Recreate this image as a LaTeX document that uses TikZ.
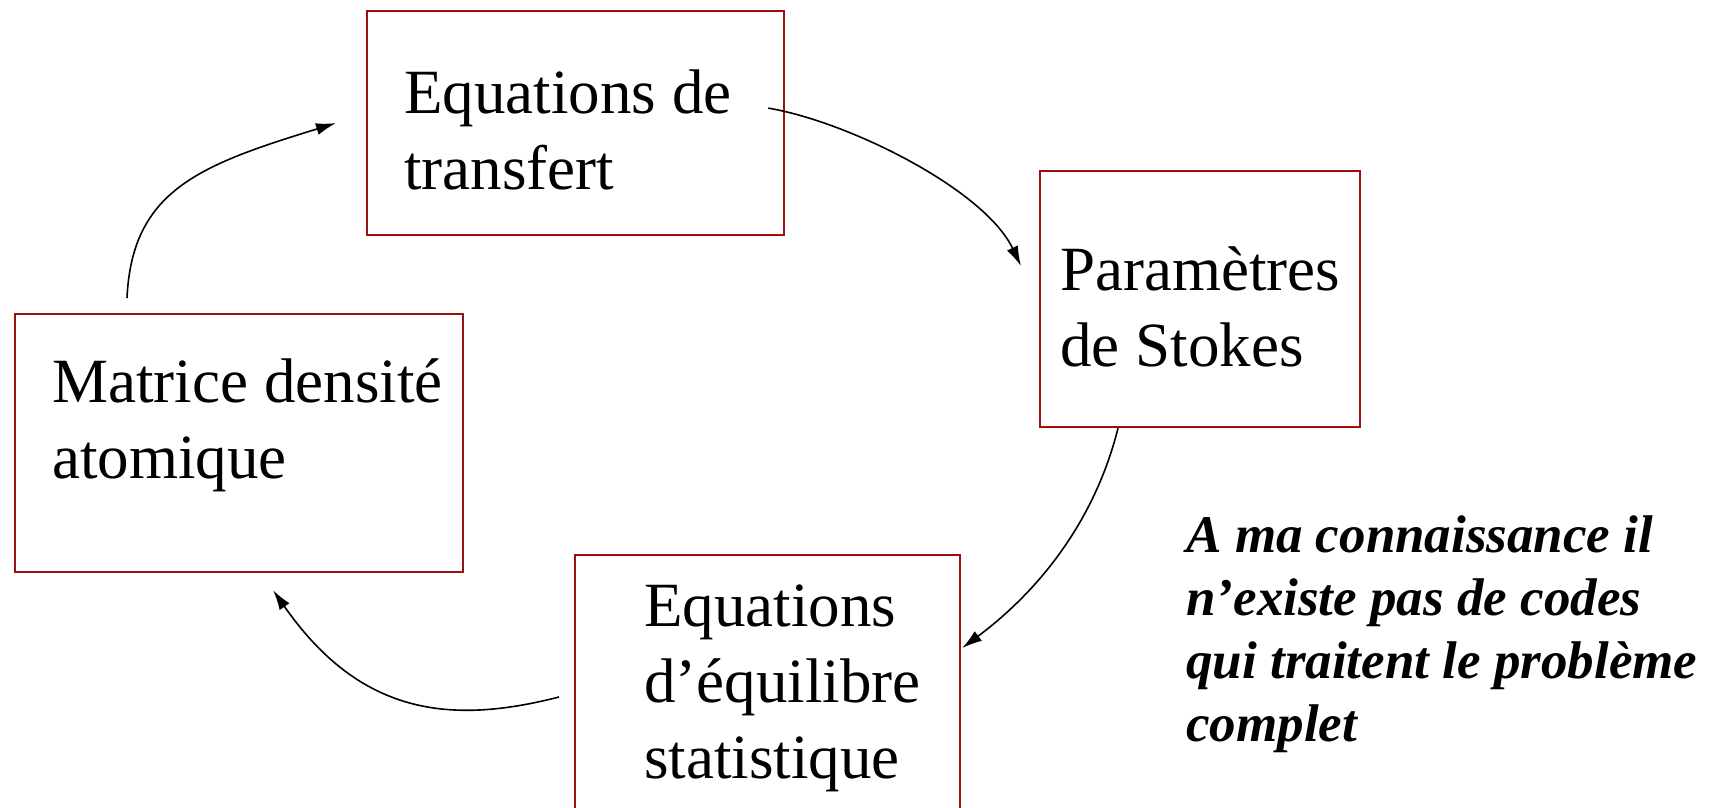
\documentclass[tikz,border=0pt]{standalone}
\usepackage{fontspec}
\setmainfont{Liberation Serif}
\usetikzlibrary{arrows.meta}
\definecolor{boxred}{RGB}{153,18,18}

\begin{document}
\begin{tikzpicture}[x=0.5pt, y=-0.5pt,
  box/.style={rectangle, draw=boxred, line width=1.1pt, inner sep=0pt, anchor=north west},
  lbl/.style={font=\fontsize{31.5}{38}\selectfont, align=left, anchor=base west, inner sep=0pt},
  note/.style={font=\fontsize{26.5}{31.5}\selectfont\bfseries\itshape, align=left, anchor=base west, inner sep=0pt},
  flow/.style={-{Latex[length=10pt, width=6pt]}, line width=0.8pt}]
  \useasboundingbox (0,0) rectangle (1713,808);
  \clip (0,0) rectangle (1713,808);

  % the four boxes of the cycle
  \node[box, minimum width=208.5pt, minimum height=112pt] (transfert) at (366,10) {};
  \node[box, minimum width=160pt, minimum height=128pt] (stokes) at (1039,170) {};
  \node[box, minimum width=224pt, minimum height=129pt] (matrice) at (14,313) {};
  \node[box, minimum width=192.5pt, minimum height=138pt] (equilibre) at (574,554) {};

  % texts, placed by the baseline of their last line
  \node[lbl] (transferttxt) at (404,189) {Equations de\\transfert};
  \node[lbl] (stokestxt) at (1060,366) {Paramètres\\de Stokes};
  \node[lbl] (matricetxt) at (52,478) {Matrice densité\\atomique};
  \node[lbl] (equilibretxt) at (644,778) {Equations\\d’équilibre\\statistique};

  \node[note] (remarque) at (1186,741) {A ma connaissance il\\n’existe pas de codes\\qui traitent le problème\\complet};

  % arrows
  \draw[flow] ([xshift=56.5pt, yshift=7.5pt]matrice.north west) .. controls (132,190) and (200,165) .. ([xshift=-15pt]transfert.west);
  \draw[flow] ([xshift=-8.5pt, yshift=7.5pt]transfert.east) .. controls (850,122) and (985,190) .. ([xshift=-9pt, yshift=16.5pt]stokes.west);
  \draw[flow] ([xshift=39.5pt]stokes.south west) .. controls (1095,520) and (1040,590) .. ([xshift=0.5pt, yshift=-47pt]equilibre.north east);
  \draw[flow] ([xshift=-7.5pt, yshift=-71.5pt]equilibre.north west) .. controls (450,725) and (360,715) .. ([xshift=17pt, yshift=-8.5pt]matrice.south);

  % keep the top edge blank
  \fill[white] (1110,0) rectangle (1320,14);
\end{tikzpicture}
\end{document}
